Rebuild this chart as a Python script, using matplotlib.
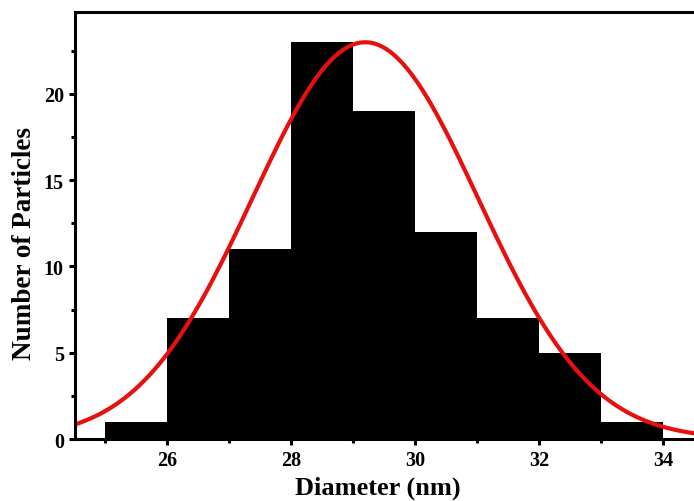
import numpy as np
import matplotlib.pyplot as plt
from matplotlib.ticker import MultipleLocator

# histogram bins (left edges) and counts
bin_left = [25, 26, 27, 28, 29, 30, 31, 32, 33]
counts = [1, 7, 11, 23, 19, 12, 7, 5, 1]

# gaussian fit parameters
fit_peak = 23.0
fit_center = 29.2
fit_sigma = 1.82

plt.rcParams['font.family'] = 'Liberation Serif'
plt.rcParams['font.weight'] = 'bold'

fig = plt.figure(figsize=(6.94, 5.02), dpi=100)
ax = fig.add_axes([0.108, 0.1235, 0.892, 0.8505])

ax.bar(bin_left, counts, width=1, align='edge', color='black', edgecolor='black', linewidth=0)

x = np.linspace(24.5, 34.6, 400)
y = fit_peak * np.exp(-(x - fit_center) ** 2 / (2 * fit_sigma ** 2))
ax.plot(x, y, color='#e8100f', lw=3)

ax.set_xlim(24.52, 34.5)
ax.set_ylim(0, 24.75)

ax.xaxis.set_major_locator(MultipleLocator(2))
ax.xaxis.set_minor_locator(MultipleLocator(1))
ax.yaxis.set_major_locator(MultipleLocator(5))
ax.yaxis.set_minor_locator(MultipleLocator(2.5))

for s in ['left', 'bottom', 'top']:
    ax.spines[s].set_linewidth(2.2)
ax.spines['right'].set_visible(False)

ax.tick_params(which='major', direction='out', length=4, width=2.2, labelsize=14.5, pad=4)
ax.tick_params(which='minor', direction='out', length=3, width=2.2)
ax.tick_params(axis='x', which='both', top=False)
for lab in ax.get_xticklabels() + ax.get_yticklabels():
    lab.set_fontweight('bold')

ax.set_xlabel('Diameter (nm)', fontsize=19, fontweight='bold', labelpad=3)
ax.set_ylabel('Number of Particles', fontsize=19.5, fontweight='bold', labelpad=6)
ax.xaxis.set_label_coords(0.49, -0.085)
ax.yaxis.set_label_coords(-0.062, 0.461)

fig.savefig('out.png', dpi=100)
